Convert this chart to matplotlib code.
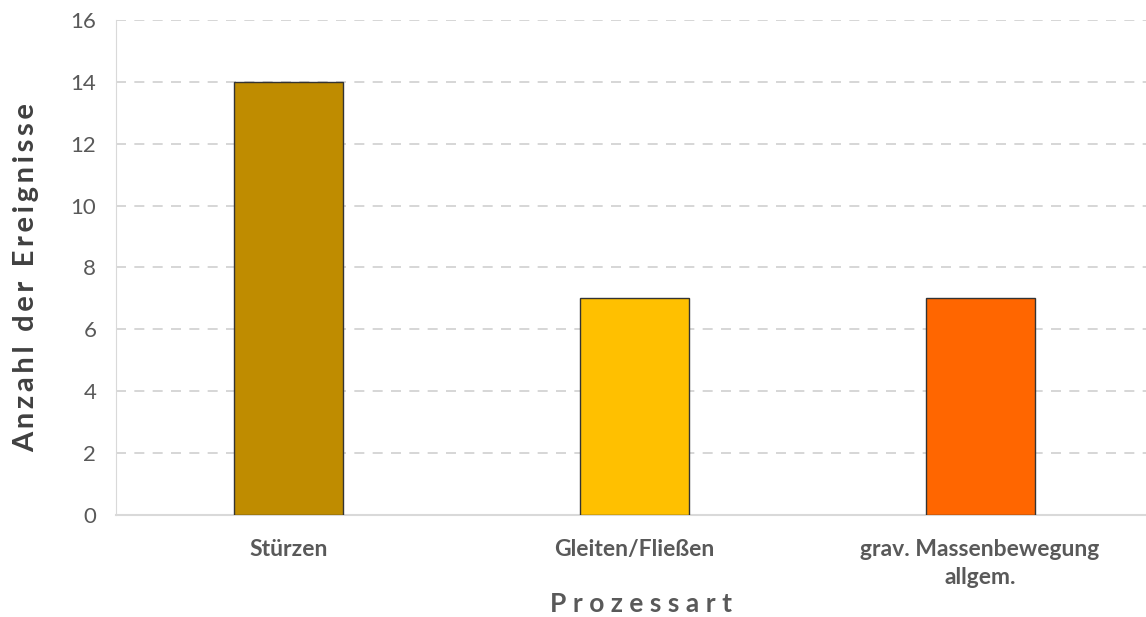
import numpy as np
import matplotlib.pyplot as plt

# Daten
kategorien = ['Stürzen', 'Gleiten/Fließen', 'grav. Massenbewegung\nallgem.']
anzahl = [14, 7, 7]
farben = ['#BF8C00', '#FFC000', '#FF6600']

plt.rcParams['font.family'] = ['Lato', 'DejaVu Sans']


def gesperrt(text, sep='\u2009'):
    # Buchstaben leicht auseinanderziehen (Sperrschrift)
    return sep.join(text)


fig = plt.figure(figsize=(11.46, 6.17), dpi=100)
ax = fig.add_axes([0.101, 0.165, 0.899, 0.803])

x = np.arange(len(kategorien))
ax.bar(x, anzahl, width=0.315, color=farben, edgecolor='#333333', linewidth=1.0, zorder=3)

ax.set_xlim(-0.5, 2.48)
ax.set_ylim(0, 16)
ax.set_yticks(np.arange(0, 17, 2))
ax.set_xticks(x)
ax.set_xticklabels(kategorien, fontsize=16.5, fontweight='bold', color='#595959',
                   linespacing=1.4)
ax.tick_params(axis='y', labelsize=16, colors='#595959', length=0, pad=14)
ax.tick_params(axis='x', length=0, pad=17)

ax.grid(axis='y', color='#D0D0D0', linestyle=(0, (6, 5)), linewidth=1.2, zorder=0)

for s in ['top', 'right']:
    ax.spines[s].set_visible(False)
ax.spines['left'].set_color('#D9D9D9')
ax.spines['bottom'].set_color('#D9D9D9')
ax.spines['bottom'].set_linewidth(1.5)

ax.set_ylabel(gesperrt('Anzahl der Ereignisse'), fontsize=21, fontweight='bold',
              color='#404040')
ax.yaxis.set_label_coords(-0.074, 0.48)
ax.set_xlabel(gesperrt('Prozessart', '\u2009\u2009'), fontsize=19, fontweight='bold',
              color='#595959')
ax.xaxis.set_label_coords(0.51, -0.155)

plt.savefig('out.png', dpi=100)
